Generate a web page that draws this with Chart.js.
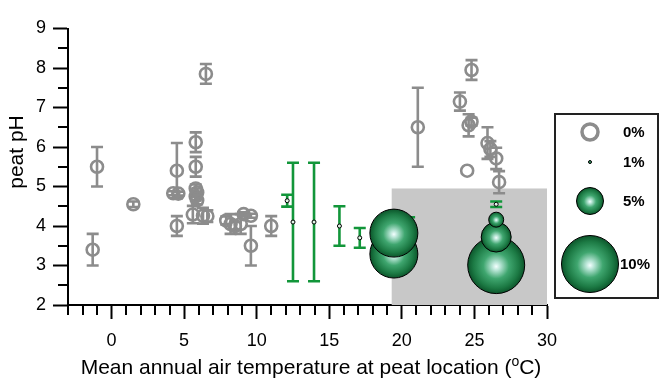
<!DOCTYPE html>
<html>
<head>
<meta charset="utf-8">
<script src="https://cdn.jsdelivr.net/npm/chart.js@4"></script>
<style>
  html, body { margin: 0; padding: 0; background: #fff; }
  #wrap { width: 661px; height: 381px; }
</style>
</head>
<body>
<div id="wrap"><canvas id="myChart"></canvas></div>
<script>
// values
const grayX   = [-1.0, -1.3, 1.5, 4.5, 4.25, 4.6, 4.5, 5.8, 5.8, 5.8, 5.9, 5.8, 5.9, 5.6, 6.3, 6.6, 6.5,
                 7.9, 8.2, 8.5, 8.9, 9.1, 9.6, 9.6, 11.0,
                 21.1, 24.8, 24.0, 24.6, 24.8, 24.5, 25.9, 26.1, 26.5, 26.7];
const grayY   = [5.5, 3.4, 4.55, 5.4, 4.83, 4.82, 4.0, 6.12, 5.5, 4.95, 4.85, 4.75, 4.65, 4.29, 4.26, 4.25, 7.85,
                 4.14, 4.05, 4.0, 4.05, 4.3, 4.26, 3.5, 4.0,
                 6.5, 7.95, 7.15, 6.55, 6.64, 5.4, 6.1, 5.95, 5.71, 5.11];
const grayErr = [0.5, 0.4, 0.07, 0.7, 0.05, 0.05, 0.25, 0.25, 0.25, 0.1, 0.1, 0.1, 0.1, 0.22, 0.2, 0.15, 0.25,
                 0.1, 0.25, 0.1, 0.25, 0.05, 0.05, 0.5, 0.25,
                 1.0, 0.25, 0.23, 0.28, 0.1, 0, 0.4, 0.2, 0.27, 0.28];

const greenX   = [12.1, 12.5, 13.95, 15.7, 17.1, 20.5, 26.5];
const greenY   = [4.64, 4.1, 4.1, 4.0, 3.7, 3.8, 4.55];
const greenErr = [0.15, 1.5, 1.5, 0.5, 0.25, 0.42, 0.07];

// spheres, listed bottom to top (drawing order)
const bubbleX   = [19.45, 19.45, 26.5, 26.5, 26.5];
const bubbleY   = [3.29, 3.82, 3.01, 3.72, 4.16];
const bubblePct = [8.5, 8.5, 10, 5.5, 3];

const shadeX = [19.3, 30];
const shadeY = [2, 4.95];

const legendLabels = ['0%', '1%', '5%', '10%'];
const legendPct    = [0, 1, 5, 10];

const xTickLabels = [0, 5, 10, 15, 20, 25, 30];
const yTickLabels = [2, 3, 4, 5, 6, 7, 8, 9];

const GRAY = 'rgb(140,140,140)';
const GREEN = 'rgb(18,150,58)';
const FONT = "'Liberation Sans', Arial, sans-serif";

function pctToRadius(p)
{
    return 3 * p - 1.5;
}

function drawSphere(ctx, x, y, r)
{
    const g = ctx.createRadialGradient(x, y + r * 0.05, 0, x, y, r);
    g.addColorStop(0, '#f4ffff');
    g.addColorStop(0.15, '#b6e4d4');
    g.addColorStop(0.45, '#3fa66f');
    g.addColorStop(0.8, '#1c7a44');
    g.addColorStop(1, '#0c552b');
    ctx.beginPath();
    ctx.arc(x, y, r, 0, Math.PI * 2);
    ctx.fillStyle = g;
    ctx.fill();
    ctx.lineWidth = 1;
    ctx.strokeStyle = '#000';
    ctx.stroke();
}

function drawErrorBars(chart, xs, ys, errs, color)
{
    const ctx = chart.ctx;
    const sx = chart.scales.x, sy = chart.scales.y;
    ctx.save();
    ctx.strokeStyle = color;
    ctx.lineWidth = 2.6;
    for (let i = 0; i < xs.length; i++)
    {
        if (!errs[i]) continue;
        const px = sx.getPixelForValue(xs[i]);
        const top = sy.getPixelForValue(ys[i] + errs[i]);
        const bot = sy.getPixelForValue(ys[i] - errs[i]);
        ctx.beginPath();
        ctx.moveTo(px, top); ctx.lineTo(px, bot);
        ctx.moveTo(px - 6, top); ctx.lineTo(px + 6, top);
        ctx.moveTo(px - 6, bot); ctx.lineTo(px + 6, bot);
        ctx.stroke();
    }
    ctx.restore();
}

const decor =
{
    id: 'decor',
    beforeDatasetsDraw(chart)
    {
        const ctx = chart.ctx;
        const sx = chart.scales.x, sy = chart.scales.y;
        const x0 = sx.getPixelForValue(shadeX[0]), x1 = sx.getPixelForValue(shadeX[1]);
        const y0 = sy.getPixelForValue(shadeY[1]), y1 = sy.getPixelForValue(shadeY[0]);
        ctx.save();
        ctx.fillStyle = '#c8c8c8';
        ctx.fillRect(x0, y0, x1 - x0, y1 - y0);
        ctx.restore();
        drawErrorBars(chart, grayX, grayY, grayErr, GRAY);
        drawErrorBars(chart, greenX, greenY, greenErr, GREEN);
    },
    afterDatasetsDraw(chart)
    {
        // shade the bubble dataset as spheres, using the positions the library computed
        const meta = chart.getDatasetMeta(2);
        const ctx = chart.ctx;
        ctx.save();
        meta.data.forEach(el => drawSphere(ctx, el.x, el.y, el.options.radius));
        ctx.restore();
    },
    afterDraw(chart)
    {
        const ctx = chart.ctx;
        const sx = chart.scales.x, sy = chart.scales.y;
        const area = chart.chartArea;
        ctx.save();
        // minor ticks
        ctx.strokeStyle = '#000';
        ctx.lineWidth = 2;
        ctx.beginPath();
        for (let v = sx.min; v <= sx.max; v++)
        {
            if (v % 5 === 0) continue;
            const px = Math.round(sx.getPixelForValue(v));
            ctx.moveTo(px, area.bottom); ctx.lineTo(px, area.bottom + 10);
        }
        for (let v = sy.min + 0.5; v < sy.max; v += 1)
        {
            const py = Math.round(sy.getPixelForValue(v));
            ctx.moveTo(area.left, py); ctx.lineTo(area.left - 10, py);
        }
        ctx.stroke();

        // axis titles
        ctx.fillStyle = '#000';
        ctx.textBaseline = 'alphabetic';
        const big = '21px ' + FONT, small = '14px ' + FONT;
        const partA = 'Mean annual air temperature at peat location (';
        const partB = 'o';
        const partC = 'C)';
        ctx.font = big;
        const wA = ctx.measureText(partA).width, wC = ctx.measureText(partC).width;
        ctx.font = small;
        const wB = ctx.measureText(partB).width;
        let tx = 311 - (wA + wB + wC) / 2;
        const ty = 374;
        ctx.font = big;
        ctx.textAlign = 'left';
        ctx.fillText(partA, tx, ty);
        ctx.font = small;
        ctx.fillText(partB, tx + wA, ty - 8);
        ctx.font = big;
        ctx.fillText(partC, tx + wA + wB, ty);

        ctx.save();
        ctx.translate(23, 152);
        ctx.rotate(-Math.PI / 2);
        ctx.textAlign = 'center';
        ctx.font = '21px ' + FONT;
        ctx.fillText('peat pH', 0, 0);
        ctx.restore();

        // legend
        ctx.strokeStyle = '#222';
        ctx.lineWidth = 2;
        ctx.strokeRect(555, 114, 103, 184);
        const rowY = [132, 162, 201, 264];
        const cx = 590;
        for (let i = 0; i < legendLabels.length; i++)
        {
            if (legendPct[i] === 0)
            {
                ctx.beginPath();
                ctx.arc(cx, rowY[i], 8, 0, Math.PI * 2);
                ctx.strokeStyle = GRAY;
                ctx.lineWidth = 3.5;
                ctx.stroke();
            }
            else
            {
                drawSphere(ctx, cx, rowY[i], pctToRadius(legendPct[i]));
            }
            ctx.fillStyle = '#000';
            ctx.font = 'bold 15px ' + FONT;
            ctx.textAlign = 'left';
            ctx.textBaseline = 'middle';
            ctx.fillText(legendLabels[i], legendPct[i] === 10 ? 620 : 623, rowY[i] + 1);
        }
        ctx.restore();
    }
};

function pts(xs, ys)
{
    return xs.map((x, i) => ({ x: x, y: ys[i] }));
}

const config =
{
    data:
    {
        datasets:
        [
            {
                type: 'scatter',
                label: '0%',
                data: pts(grayX, grayY),
                pointRadius: 6,
                pointBorderWidth: 2.6,
                pointBorderColor: GRAY,
                pointBackgroundColor: 'rgba(0,0,0,0)'
            },
            {
                type: 'scatter',
                label: '1%',
                data: pts(greenX, greenY),
                pointRadius: 2,
                pointBorderWidth: 1,
                pointBorderColor: '#000',
                pointBackgroundColor: '#dff5e6'
            },
            {
                type: 'bubble',
                label: 'spheres',
                data: bubbleX.map((x, i) => ({ x: x, y: bubbleY[i], r: pctToRadius(bubblePct[i]) })),
                borderColor: 'rgba(0,0,0,0)',
                borderWidth: 0,
                backgroundColor: 'rgba(0,0,0,0)'
            }
        ]
    },
    options:
    {
        responsive: true,
        maintainAspectRatio: false,
        animation: false,
        events: [],
        layout: { padding: { left: 0, right: 114, top: 16, bottom: 0 } },
        plugins:
        {
            legend: { display: false },
            tooltip: { enabled: false }
        },
        scales:
        {
            x:
            {
                type: 'linear',
                min: -3,
                max: 30,
                border: { display: true, color: '#000', width: 2 },
                grid:
                {
                    drawOnChartArea: false,
                    drawTicks: true,
                    tickLength: 14,
                    tickWidth: 2,
                    tickColor: c => (c.tick && xTickLabels.includes(c.tick.value)) ? '#000' : 'rgba(0,0,0,0)'
                },
                ticks:
                {
                    stepSize: 1,
                    autoSkip: false,
                    maxRotation: 0,
                    padding: 11,
                    color: '#000',
                    font: { family: FONT, size: 18 },
                    callback: v => xTickLabels.includes(v) ? String(v) : ''
                },
                afterFit(scale) { scale.height = 76; }
            },
            y:
            {
                type: 'linear',
                min: 2,
                max: 9,
                border: { display: true, color: '#000', width: 2 },
                grid:
                {
                    drawOnChartArea: false,
                    drawTicks: true,
                    tickLength: 15,
                    tickWidth: 2,
                    tickColor: c => (c.tick && yTickLabels.includes(c.tick.value)) ? '#000' : 'rgba(0,0,0,0)'
                },
                ticks:
                {
                    stepSize: 0.5,
                    autoSkip: false,
                    padding: 7,
                    color: '#000',
                    font: { family: FONT, size: 18 },
                    callback: v => yTickLabels.includes(v) ? String(v) : ''
                },
                afterFit(scale) { scale.width = 68; }
            }
        }
    },
    plugins: [decor]
};

new Chart(document.getElementById('myChart'), config);
</script>
</body>
</html>
